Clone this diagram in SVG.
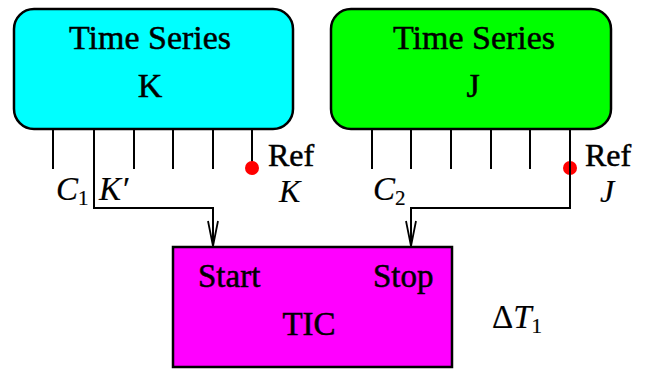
<svg xmlns="http://www.w3.org/2000/svg" width="648" height="372" viewBox="0 0 648 372">
<style>
.box{stroke:#000;stroke-width:2.5}
.t{font-family:"Liberation Serif","Times New Roman",serif;fill:#000;stroke:#000;stroke-width:0.5}
.big{font-size:34px}
.mid{font-size:33px}
.ref{font-size:32px}
.it{font-size:33px;font-style:italic;stroke-width:0.2}
.itk{font-size:32px;font-style:italic;stroke-width:0.2}
.sub{font-size:21px;font-style:normal}
.w{stroke:#000;stroke-width:2;fill:none}
.dot{fill:#ff0000}
</style>
<defs>
<marker id="arr" markerUnits="userSpaceOnUse" markerWidth="14" markerHeight="28" refX="6" refY="26" orient="0" viewBox="0 0 12 28">
<path d="M1,1 L6,26 L11,1" fill="none" stroke="#000" stroke-width="1.8"/>
</marker>
</defs>
<rect width="648" height="372" fill="#fff"/>
<g id="ts-k">
<rect class="box" x="14" y="9" width="279" height="120" rx="20" fill="#00ffff"/>
<text class="t big" x="150" y="49" text-anchor="middle">Time Series</text>
<text class="t big" x="150" y="97" text-anchor="middle">K</text>
<path class="w" d="M53,129V169M134,129V169M173,129V169M213,129V169M252,129V168"/>
<circle class="dot" cx="252" cy="168" r="7"/>
<text class="t ref" x="268" y="166">Ref</text>
<text class="t itk" x="279" y="202">K</text>
<text class="t it" x="56" y="200">C<tspan class="sub" dy="5">1</tspan></text>
<text class="t it" x="99" y="200">K′</text>
</g>
<g id="ts-j">
<rect class="box" x="331" y="9" width="280" height="120" rx="20" fill="#00ff00"/>
<text class="t big" x="474" y="49" text-anchor="middle">Time Series</text>
<text class="t big" x="473" y="97" text-anchor="middle">J</text>
<path class="w" d="M372,129V169M411,129V169M451,129V169M491,129V169M530,129V169"/>
<circle class="dot" cx="570" cy="168" r="7"/>
<text class="t ref" x="585" y="166">Ref</text>
<text class="t itk" x="600" y="202">J</text>
<text class="t it" x="373" y="200">C<tspan class="sub" dy="5">2</tspan></text>
</g>
<g id="tic">
<rect class="box" x="173" y="247" width="279" height="120" fill="#ff00ff"/>
<text class="t mid" x="198" y="287">Start</text>
<text class="t mid" x="373" y="287">Stop</text>
<text class="t mid" x="309" y="335" text-anchor="middle">TIC</text>
</g>
<g id="delta">
<text class="t it" x="492" y="328"><tspan font-style="normal">Δ</tspan>T<tspan class="sub" dy="5">1</tspan></text>
</g>
<g id="connectors">
<path class="w" d="M94,129V208H213V246" marker-end="url(#arr)"/>
<path class="w" d="M570,129V208H411V246" marker-end="url(#arr)"/>
</g>
</svg>
